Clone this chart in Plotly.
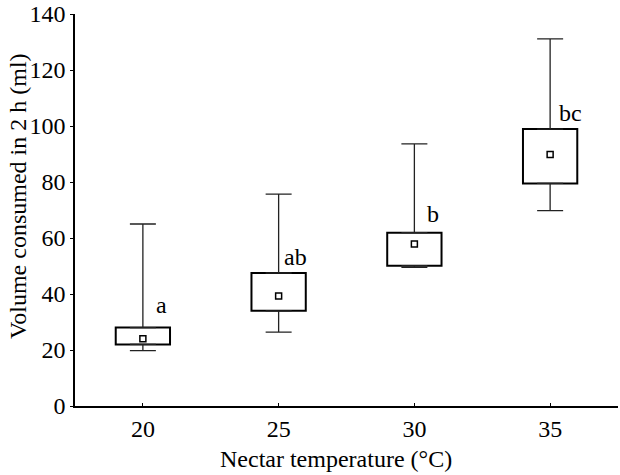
import plotly.graph_objects as go

temps = [20, 25, 30, 35]
q1 = [22.0, 34.0, 50.1, 79.5]
q3 = [28.0, 47.5, 61.9, 98.9]
medians = [24.0, 39.3, 57.9, 89.8]
lower = [19.8, 26.4, 49.5, 69.8]
upper = [65.0, 75.7, 93.6, 131.1]
letters = ["a", "ab", "b", "bc"]
letter_x = [20.70, 25.63, 30.70, 35.74]
letter_y = [36.0, 53.1, 68.5, 104.5]

FONT = "Liberation Serif, Times New Roman, serif"
TF = dict(family=FONT, size=24, color="black")
fig = go.Figure()

fig.add_trace(go.Scatter(
    x=temps, y=q3, mode="markers", marker=dict(size=0.1, opacity=0),
    error_y=dict(type="data", symmetric=False,
                 array=[u - t for u, t in zip(upper, q3)],
                 arrayminus=[0] * len(temps),
                 color="#222", thickness=1.3, width=13),
    showlegend=False, hoverinfo="skip"))
fig.add_trace(go.Scatter(
    x=temps, y=q1, mode="markers", marker=dict(size=0.1, opacity=0),
    error_y=dict(type="data", symmetric=False,
                 array=[0] * len(temps),
                 arrayminus=[b - l for b, l in zip(q1, lower)],
                 color="#222", thickness=1.3, width=13),
    showlegend=False, hoverinfo="skip"))
fig.add_trace(go.Bar(
    x=temps, base=q1, y=[t - b for t, b in zip(q3, q1)], width=2,
    marker=dict(color="white", line=dict(color="black", width=2)),
    showlegend=False, hoverinfo="skip"))
fig.add_trace(go.Scatter(
    x=temps, y=medians, mode="markers",
    marker=dict(symbol="square-open", size=6, color="black", line=dict(width=1.5)),
    showlegend=False, hoverinfo="skip"))

for lx, ly, lt in zip(letter_x, letter_y, letters):
    fig.add_annotation(x=lx, y=ly, text=lt, showarrow=False,
                       xanchor="center", yanchor="middle", font=TF)

# axis titles
fig.add_annotation(xref="paper", yref="paper", x=0.4807, y=-0.134,
                   text="Nectar temperature (°C)", showarrow=False,
                   xanchor="center", yanchor="middle", font=TF)
fig.add_annotation(xref="paper", yref="paper", x=-0.105, y=0.5357,
                   text="Volume consumed in 2 h (ml)", showarrow=False, textangle=-90,
                   xanchor="center", yanchor="middle", font=TF)

fig.update_layout(
    width=620, height=475,
    margin=dict(l=75, r=2, t=14, b=69, autoexpand=False),
    plot_bgcolor="white", paper_bgcolor="white",
    font=TF, barmode="overlay",
)
fig.update_xaxes(range=[17.5, 37.5], tickvals=temps, ticktext=[str(t) for t in temps],
                 tickfont=TF, automargin=False,
                 showline=True, linecolor="black", linewidth=1.5, ticks="inside",
                 ticklen=3, tickcolor="black", showgrid=False, zeroline=False)
fig.update_yaxes(range=[0, 140], tickvals=[0, 20, 40, 60, 80, 100, 120, 140],
                 tickfont=TF, automargin=False,
                 showline=True, linecolor="black", linewidth=1.5, ticks="outside",
                 ticklen=3, tickcolor="black", showgrid=False, zeroline=False)

fig.write_html("out.html")
